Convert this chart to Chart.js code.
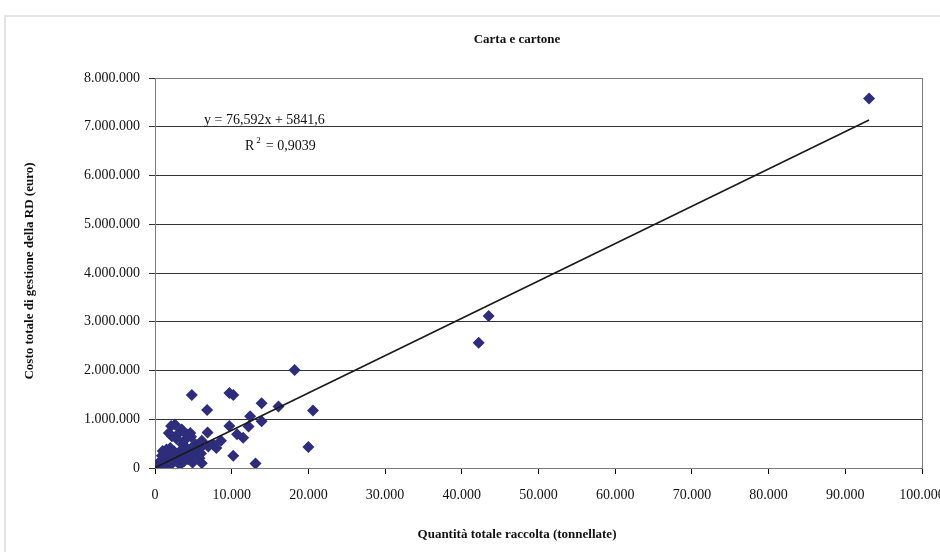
<!DOCTYPE html>
<html>
<head>
<meta charset="utf-8">
<script src="https://cdn.jsdelivr.net/npm/chart.js@4.4.0/dist/chart.umd.min.js"></script>
<style>
  html, body { margin: 0; padding: 0; background: #fff; overflow: hidden; }
  #wrap { position: relative; width: 940px; height: 552px; }
  #frame { position: absolute; left: 4px; top: 15px; width: 1000px; height: 600px;
           border: 2px solid #e4e4e4; box-sizing: border-box; }
  canvas { position: absolute; left: 0; top: 0; }
</style>
</head>
<body>
<div id="wrap">
  <div id="frame"></div>
  <canvas id="mycanvas" width="940" height="552"></canvas>
</div>
<script>
// tonnellate raccolte (x) e costo totale in euro (y)
var quantita = [
  93100, 43500, 42200, 18200, 4800, 9700, 10200, 13900, 16100, 20600,
  6800, 12400, 13900, 9700, 12200, 6850, 10700, 11500, 10200, 13100,
  20000, 7600, 8000, 6950, 5200, 8600, 2600, 3500, 4600, 2200,
  2100, 3000, 3400, 2800, 3800, 4200, 4700, 1800, 3600,
  50, 120, 200, 300, 400, 500, 600, 700, 800, 900,
  1000, 1100, 1200, 1300, 1400, 150, 250, 350, 450, 550,
  650, 750, 850, 950, 1050,
  1500, 1600, 1700, 1800, 1900, 2000, 2100, 2200, 2300, 2400,
  2500, 2600, 2700, 2800, 2900, 3000, 3100, 3200, 3300, 3400,
  1500, 1700, 2000, 1200, 900, 1000,
  3500, 3700, 3800, 4000, 4200, 4300, 4500, 4700, 4900, 5100,
  5300, 5600, 5800, 6000, 6100, 6100, 6000
];
var costo = [
  7580000, 3120000, 2570000, 2010000, 1500000, 1540000, 1500000, 1330000, 1260000, 1180000,
  1190000, 1060000, 960000, 860000, 850000, 730000, 690000, 620000, 250000, 90000,
  430000, 480000, 410000, 440000, 480000, 560000, 890000, 790000, 720000, 650000,
  860000, 700000, 780000, 600000, 560000, 680000, 640000, 720000, 480000,
  8000, 15000, 12000, 30000, 25000, 45000, 38000, 60000, 52000, 75000,
  68000, 95000, 80000, 110000, 130000, 40000, 60000, 85000, 20000, 100000,
  120000, 30000, 140000, 160000, 40000,
  170000, 60000, 200000, 250000, 140000, 220000, 300000, 90000, 180000, 260000,
  340000, 150000, 210000, 280000, 120000, 240000, 320000, 190000, 70000, 270000,
  380000, 330000, 410000, 280000, 250000, 350000,
  360000, 230000, 140000, 300000, 400000, 180000, 330000, 260000, 110000, 380000,
  480000, 300000, 200000, 420000, 100000, 560000, 300000
];

// linea di tendenza (estremi)
var trendX = [0, 93100];
var trendY = [5842, 7136600];

var xTicks = { min: 0, max: 100000, step: 10000 };
var yTicks = { min: 0, max: 8000000, step: 1000000 };

var titolo = 'Carta e cartone';
var titoloX = 'Quantit\u00e0 totale raccolta (tonnellate)';
var titoloY = 'Costo totale di gestione della RD (euro)';
var equazione = 'y = 76,592x + 5841,6';
var r2 = '0,9039';

var punti = [];
for (var i = 0; i < quantita.length; i++) {
  punti.push({ x: quantita[i], y: costo[i] });
}
var tendenza = [];
for (var j = 0; j < trendX.length; j++) {
  tendenza.push({ x: trendX[j], y: trendY[j] });
}

function fmt(v) {
  return String(v).replace(/\B(?=(\d{3})+(?!\d))/g, '.');
}

var serif = '"Liberation Serif", "Times New Roman", serif';

var testi = {
  id: 'testi',
  beforeDatasetsDraw: function(chart) {
    var ctx = chart.ctx, a = chart.chartArea;
    ctx.save();
    ctx.strokeStyle = '#7a7a7a';
    ctx.lineWidth = 1;
    ctx.strokeRect(a.left + 0.5, a.top + 0.5, a.right - a.left, a.bottom - a.top);
    ctx.restore();
  },
  afterDraw: function(chart) {
    var ctx = chart.ctx;
    ctx.save();
    ctx.fillStyle = '#111';
    ctx.textBaseline = 'middle';
    ctx.textAlign = 'center';
    ctx.font = 'bold 13px ' + serif;
    ctx.fillText(titolo, 517, 40);
    ctx.fillText(titoloX, 517, 535);
    ctx.save();
    ctx.translate(30, 271);
    ctx.rotate(-Math.PI / 2);
    ctx.fillText(titoloY, 0, 0);
    ctx.restore();

    ctx.textAlign = 'left';
    ctx.font = '14px ' + serif;
    ctx.fillText(equazione, 204, 120);
    ctx.fillText('R', 245, 146);
    var w = ctx.measureText('R').width;
    ctx.font = '9px ' + serif;
    ctx.fillText('2', 245 + w + 2, 141);
    ctx.font = '14px ' + serif;
    ctx.fillText(' = ' + r2, 245 + w + 8, 146);
    ctx.restore();
  }
};

var ctx = document.getElementById('mycanvas');

var grafico = new Chart(ctx, {
  type: 'scatter',
  data: {
    datasets: [
      {
        label: 'tendenza',
        data: tendenza,
        showLine: true,
        borderColor: '#1a1a1a',
        borderWidth: 1.6,
        pointRadius: 0,
        fill: false
      },
      {
        label: 'Carta e cartone',
        data: punti,
        pointStyle: 'rectRot',
        pointRadius: 6,
        backgroundColor: '#2d2d7c',
        borderColor: '#2d2d7c',
        borderWidth: 0
      }
    ]
  },
  options: {
    responsive: false,
    animation: false,
    layout: { padding: { top: 78, right: 18, bottom: 0, left: 0 } },
    plugins: {
      legend: { display: false },
      tooltip: { enabled: false },
      title: { display: false }
    },
    scales: {
      x: {
        type: 'linear',
        min: xTicks.min,
        max: xTicks.max,
        afterFit: function(s) { s.height = 84; s.paddingLeft = 0; s.paddingRight = 0; },
        ticks: {
          stepSize: xTicks.step,
          padding: 13,
          color: '#111',
          maxRotation: 0,
          font: { family: serif, size: 14 },
          callback: function(v) { return fmt(v); }
        },
        grid: { drawOnChartArea: false, drawTicks: true, tickLength: 6, color: '#000' },
        border: { color: '#000', width: 1 }
      },
      y: {
        type: 'linear',
        min: yTicks.min,
        max: yTicks.max,
        afterFit: function(s) { s.width = 155; s.paddingTop = 0; s.paddingBottom = 0; },
        ticks: {
          stepSize: yTicks.step,
          padding: 9,
          color: '#111',
          font: { family: serif, size: 14 },
          callback: function(v) { return fmt(v); }
        },
        grid: { color: '#333', tickLength: 6, lineWidth: 1 },
        border: { color: '#000', width: 1 }
      }
    }
  },
  plugins: [testi]
});
</script>
</body>
</html>
